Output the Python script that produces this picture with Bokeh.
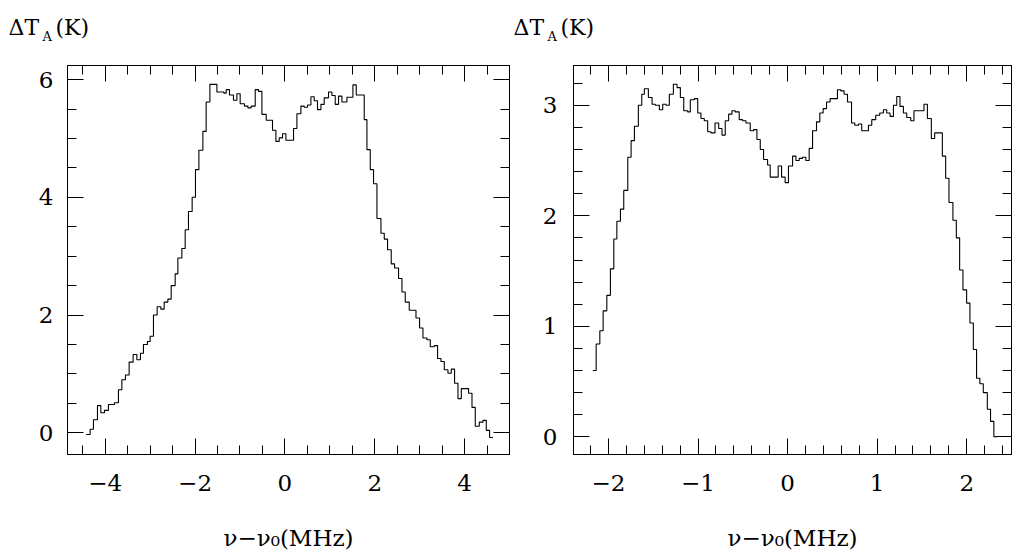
from bokeh.plotting import figure
from bokeh.layouts import row, column
from bokeh.models import Range1d, LinearAxis, FixedTicker
from bokeh.core.properties import value
from bokeh.embed import file_html
from bokeh.resources import INLINE

FONT = "DejaVu Serif"

# ---- left spectrum: channel left edges (MHz) and antenna temperature (K)
left_nu = [
    -4.425, -4.336, -4.262, -4.173, -4.098, -4.017, -3.928, -3.795, -3.706, -3.630,
    -3.550, -3.468, -3.379, -3.296, -3.216, -3.149, -3.060, -3.000, -2.926, -2.844,
    -2.762, -2.688, -2.606, -2.532, -2.443, -2.383, -2.294, -2.220, -2.147, -2.065,
    -1.991, -1.915, -1.826, -1.753, -1.670, -1.514, -1.359, -1.307, -1.234, -1.145,
    -1.069, -0.996, -0.900, -0.824, -0.751, -0.661, -0.588, -0.512, -0.416, -0.276,
    -0.200, -0.127, -0.053, 0.022, 0.192, 0.267, 0.356, 0.430, 0.504, 0.579,
    0.653, 0.726, 0.802, 0.875, 0.971, 1.047, 1.120, 1.194, 1.269, 1.381,
    1.514, 1.588, 1.766, 1.826, 1.900, 1.973, 2.049, 2.138, 2.212, 2.285,
    2.367, 2.441, 2.530, 2.606, 2.679, 2.768, 2.918, 2.998, 3.073, 3.163,
    3.236, 3.325, 3.399, 3.474, 3.548, 3.630, 3.704, 3.777, 3.853, 3.927,
    4.089, 4.165, 4.238, 4.327, 4.410, 4.483, 4.557]
left_ta = [
    -0.03, 0.06, 0.22, 0.46, 0.34, 0.38, 0.48, 0.51, 0.73, 0.90,
    0.98, 1.20, 1.33, 1.24, 1.35, 1.50, 1.55, 1.64, 2.00, 2.14,
    2.10, 2.22, 2.27, 2.50, 2.70, 2.97, 3.13, 3.45, 3.76, 4.00,
    4.47, 4.80, 5.12, 5.62, 5.92, 5.79, 5.77, 5.83, 5.74, 5.65,
    5.76, 5.59, 5.55, 5.52, 5.55, 5.83, 5.80, 5.41, 5.31, 5.14,
    4.95, 5.01, 5.08, 4.97, 5.17, 5.42, 5.55, 5.53, 5.57, 5.71,
    5.64, 5.49, 5.58, 5.69, 5.79, 5.73, 5.58, 5.72, 5.62, 5.70,
    5.91, 5.74, 5.32, 4.81, 4.47, 4.23, 3.64, 3.39, 3.29, 3.11,
    2.87, 2.80, 2.62, 2.39, 2.22, 2.08, 1.95, 1.78, 1.61, 1.58,
    1.46, 1.48, 1.26, 1.21, 1.07, 1.01, 1.08, 0.84, 0.58, 0.75,
    0.67, 0.43, 0.11, 0.18, 0.21, 0.04, -0.08]
left_end = 4.633

# ---- right spectrum
right_nu = [
    -2.174, -2.137, -2.096, -2.059, -2.018, -1.978, -1.940, -1.906, -1.866, -1.829,
    -1.784, -1.747, -1.710, -1.666, -1.628, -1.599, -1.554, -1.513, -1.476, -1.431,
    -1.394, -1.357, -1.320, -1.275, -1.234, -1.197, -1.159, -1.115, -1.086, -1.041,
    -1.003, -0.967, -0.930, -0.892, -0.855, -0.810, -0.769, -0.732, -0.696, -0.658,
    -0.621, -0.584, -0.540, -0.502, -0.465, -0.417, -0.379, -0.342, -0.305, -0.268,
    -0.223, -0.194, -0.105, -0.067, -0.027, 0.010, 0.056, 0.093, 0.130, 0.167,
    0.204, 0.241, 0.279, 0.323, 0.360, 0.397, 0.435, 0.475, 0.557, 0.594,
    0.631, 0.669, 0.714, 0.750, 0.792, 0.828, 0.903, 0.940, 0.984, 1.029,
    1.070, 1.107, 1.144, 1.182, 1.219, 1.255, 1.293, 1.330, 1.375, 1.411,
    1.523, 1.561, 1.605, 1.642, 1.728, 1.765, 1.802, 1.846, 1.884, 1.921,
    1.958, 1.999, 2.036, 2.074, 2.110, 2.147, 2.185, 2.230, 2.266, 2.303]
right_ta = [
    0.60, 0.84, 0.96, 1.14, 1.28, 1.52, 1.79, 1.95, 2.06, 2.23,
    2.53, 2.68, 2.81, 3.00, 3.10, 3.15, 3.07, 3.01, 3.00, 2.96,
    3.01, 3.00, 3.10, 3.19, 3.16, 3.07, 2.95, 2.94, 3.05, 3.06,
    2.93, 2.88, 2.86, 2.76, 2.75, 2.84, 2.79, 2.73, 2.86, 2.92,
    2.95, 2.94, 2.87, 2.86, 2.84, 2.77, 2.78, 2.69, 2.60, 2.51,
    2.46, 2.35, 2.45, 2.35, 2.30, 2.45, 2.54, 2.50, 2.52, 2.53,
    2.50, 2.61, 2.77, 2.85, 2.93, 2.97, 3.03, 3.06, 3.14, 3.13,
    3.10, 3.03, 2.84, 2.82, 2.83, 2.77, 2.82, 2.87, 2.91, 2.93,
    2.96, 2.93, 2.90, 3.00, 3.08, 2.99, 2.93, 2.89, 2.86, 2.95,
    3.01, 2.88, 2.70, 2.75, 2.54, 2.34, 2.12, 1.96, 1.80, 1.51,
    1.33, 1.21, 1.03, 0.79, 0.53, 0.48, 0.40, 0.25, 0.14, 0.00]
right_end = 2.340

# ---- ticks
left_xticks = [-4, -2, 0, 2, 4]
left_xtick_labels = ["\u22124", "\u22122", "0", "2", "4"]
left_xminor = [-4.5, -4, -3.5, -3, -2.5, -2, -1.5, -1, -0.5, 0, 0.5, 1, 1.5,
               2, 2.5, 3, 3.5, 4, 4.5, 5]
left_yticks = [0, 2, 4, 6]
left_ytick_labels = ["0", "2", "4", "6"]
left_yminor = [0, 0.5, 1, 1.5, 2, 2.5, 3, 3.5, 4, 4.5, 5, 5.5, 6]

right_xticks = [-2, -1, 0, 1, 2]
right_xtick_labels = ["\u22122", "\u22121", "0", "1", "2"]
right_xminor = [-2.2, -2.0, -1.8, -1.6, -1.4, -1.2, -1.0, -0.8, -0.6, -0.4, -0.2, 0.0,
                0.2, 0.4, 0.6, 0.8, 1.0, 1.2, 1.4, 1.6, 1.8, 2.0, 2.2, 2.4]
right_yticks = [0, 1, 2, 3]
right_ytick_labels = ["0", "1", "2", "3"]
right_yminor = [0, 0.2, 0.4, 0.6, 0.8, 1.0, 1.2, 1.4, 1.6, 1.8, 2.0, 2.2, 2.4,
                2.6, 2.8, 3.0, 3.2]

x_title = "\u03bd\u2212\u03bd\u2080(MHz)"
y_title_main = "\u0394T"
y_title_sub = "A"
y_title_unit = "(K)"


def style_axis(ax, ticks, labels, minor, show):
    ax.ticker = FixedTicker(ticks=ticks, minor_ticks=minor)
    ax.major_tick_in = 16
    ax.major_tick_out = 0
    ax.minor_tick_in = 9
    ax.minor_tick_out = 0
    ax.axis_line_color = "black"
    ax.major_tick_line_color = "black"
    ax.minor_tick_line_color = "black"
    ax.axis_line_width = 1
    if show:
        ax.major_label_overrides = {t: l for t, l in zip(ticks, labels)}
        ax.major_label_text_font = FONT
        ax.major_label_text_font_size = "23px"
        ax.major_label_text_color = "black"
    else:
        ax.major_label_text_font_size = "0px"
        ax.major_label_text_color = None
        ax.major_label_standoff = 0


def panel(nu, ta, end, xr, yr, fw, bl, br,
          xt, xtl, xm, yt, ytl, ym, ystandoff):
    p = figure(x_range=Range1d(*xr), y_range=Range1d(*yr),
               frame_width=fw, frame_height=389,
               min_border_left=bl, min_border_right=br,
               min_border_top=20, min_border_bottom=102,
               output_backend="svg", toolbar_location=None)
    p.xgrid.visible = False
    p.ygrid.visible = False
    p.outline_line_color = "black"
    p.outline_line_width = 1
    p.background_fill_color = "white"
    p.border_fill_color = "white"

    xs = list(nu) + [end]
    ys = list(ta) + [ta[-1]]
    p.step(xs, ys, mode="after", line_color="black", line_width=1.1)

    style_axis(p.xaxis[0], xt, xtl, xm, True)
    p.xaxis[0].major_label_standoff = 20
    p.xaxis[0].axis_label = x_title
    p.xaxis[0].axis_label_text_font = FONT
    p.xaxis[0].axis_label_text_font_size = "23px"
    p.xaxis[0].axis_label_text_font_style = "normal"
    p.xaxis[0].axis_label_text_color = "black"
    p.xaxis[0].axis_label_standoff = 31

    style_axis(p.yaxis[0], yt, ytl, ym, True)
    p.yaxis[0].major_label_standoff = ystandoff

    top = LinearAxis()
    style_axis(top, xt, xtl, xm, False)
    p.add_layout(top, "above")
    rgt = LinearAxis()
    style_axis(rgt, yt, ytl, ym, False)
    p.add_layout(rgt, "right")
    return p


p1 = panel(left_nu, left_ta, left_end, (-4.84, 5.0), (-0.37, 6.24), 442, 67, 26,
           left_xticks, left_xtick_labels, left_xminor,
           left_yticks, left_ytick_labels, left_yminor, 14)
p2 = panel(right_nu, right_ta, right_end, (-2.39, 2.5), (-0.16, 3.36), 438, 38, 2,
           right_xticks, right_xtick_labels, right_xminor,
           right_yticks, right_ytick_labels, right_yminor, 16)

# ---- strip above the panels carrying the y-axis titles (pixel coordinates)
head = figure(width=1013, height=45, x_range=Range1d(0, 1013), y_range=Range1d(45, 0),
              x_axis_type=None, y_axis_type=None, min_border=0,
              output_backend="svg", toolbar_location=None)
head.outline_line_color = None
head.xgrid.visible = False
head.ygrid.visible = False
head.background_fill_color = "white"
head.border_fill_color = "white"
head.text(x=[8, 513], y=[27, 27], text=[y_title_main, y_title_main],
          text_font=value(FONT), text_font_size="22px",
          text_baseline="alphabetic", text_align="left", text_color="black")
head.text(x=[42, 547], y=[36, 36], text=[y_title_sub, y_title_sub],
          text_font=value(FONT), text_font_size="13px",
          text_baseline="alphabetic", text_align="left", text_color="black")
head.text(x=[55, 560], y=[27, 27], text=[y_title_unit, y_title_unit],
          text_font=value(FONT), text_font_size="22px",
          text_baseline="alphabetic", text_align="left", text_color="black")

layout = column(head, row(p1, p2, spacing=0), spacing=0)
open("out.html", "w").write(file_html(layout, INLINE))
